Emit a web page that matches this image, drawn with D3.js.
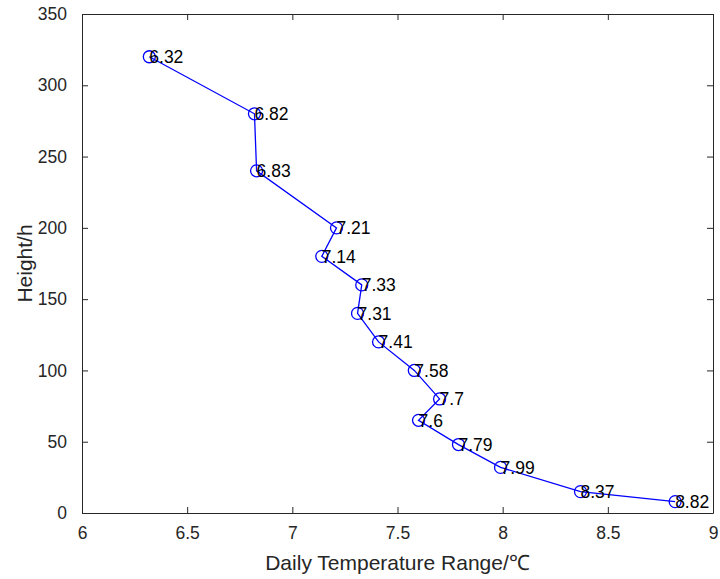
<!DOCTYPE html>
<meta charset="utf-8">
<style>
    body { margin: 0; background: #fff; }
    text { font-family: "Liberation Sans", Arial, sans-serif; }
    .axis text { fill: #262626; font-size: 17.5px; }
    .axis path, .axis line { stroke: #262626; }
</style>
<svg width="720" height="579"></svg>
<script src="https://d3js.org/d3.v7.min.js"></script>
<script>
    var dtr = [6.32, 6.82, 6.83, 7.21, 7.14, 7.33, 7.31, 7.41, 7.58, 7.7, 7.6, 7.79, 7.99, 8.37, 8.82];
    var heights = [320, 280, 240, 200, 180, 160, 140, 120, 100, 80, 65, 48, 32, 15, 8];
    var labels = ["6.32", "6.82", "6.83", "7.21", "7.14", "7.33", "7.31", "7.41", "7.58", "7.7", "7.6", "7.79", "7.99", "8.37", "8.82"];
    var xTicks = [6, 6.5, 7, 7.5, 8, 8.5, 9];
    var yTicks = [0, 50, 100, 150, 200, 250, 300, 350];

    var svg = d3.select("svg"),
        pl = 82, pr = 713, pt = 14, pb = 513;

    var x = d3.scaleLinear().domain([6, 9]).range([pl, pr]);
    var y = d3.scaleLinear().domain([0, 350]).range([pb, pt]);

    var tick = 6;

    svg.append("g").attr("class", "axis")
        .attr("transform", "translate(0," + pb + ")")
        .call(d3.axisBottom(x).tickValues(xTicks).tickSizeInner(-tick).tickSizeOuter(0).tickPadding(14).tickFormat(d3.format("")));
    svg.append("g").attr("class", "axis")
        .attr("transform", "translate(0," + pt + ")")
        .call(d3.axisTop(x).tickValues(xTicks).tickSizeInner(-tick).tickSizeOuter(0).tickFormat(""));
    svg.append("g").attr("class", "axis")
        .attr("transform", "translate(" + pl + ",0)")
        .call(d3.axisLeft(y).tickValues(yTicks).tickSizeInner(-tick).tickSizeOuter(0).tickPadding(15));
    svg.append("g").attr("class", "axis")
        .attr("transform", "translate(" + pr + ",0)")
        .call(d3.axisRight(y).tickValues(yTicks).tickSizeInner(-tick).tickSizeOuter(0).tickFormat(""));

    svg.append("text")
        .attr("x", (pl + pr) / 2).attr("y", 570)
        .attr("text-anchor", "middle")
        .attr("fill", "#262626").style("font-size", "21px")
        .text("Daily Temperature Range/℃");

    svg.append("text")
        .attr("transform", "translate(32," + (pt + pb) / 2 + ") rotate(-90)")
        .attr("text-anchor", "middle")
        .attr("fill", "#262626").style("font-size", "21px")
        .text("Height/h");

    var pts = d3.range(dtr.length).map(function (i) {
        return {x: dtr[i], y: heights[i], label: labels[i]};
    });

    var line = d3.line()
        .x(function (d) { return x(d.x); })
        .y(function (d) { return y(d.y); });

    svg.append("path")
        .datum(pts)
        .attr("d", line)
        .attr("fill", "none")
        .attr("stroke", "#0000ff")
        .attr("stroke-width", 1.3);

    svg.selectAll(".pt")
        .data(pts)
        .enter().append("circle")
        .attr("cx", function (d) { return x(d.x); })
        .attr("cy", function (d) { return y(d.y); })
        .attr("r", 6)
        .attr("fill", "none")
        .attr("stroke", "#0000ff")
        .attr("stroke-width", 1.3);

    svg.selectAll(".lbl")
        .data(pts)
        .enter().append("text")
        .attr("x", function (d) { return x(d.x); })
        .attr("y", function (d) { return y(d.y); })
        .attr("dy", "0.36em")
        .attr("fill", "#000")
        .style("font-size", "17.5px")
        .text(function (d) { return d.label; });
</script>
